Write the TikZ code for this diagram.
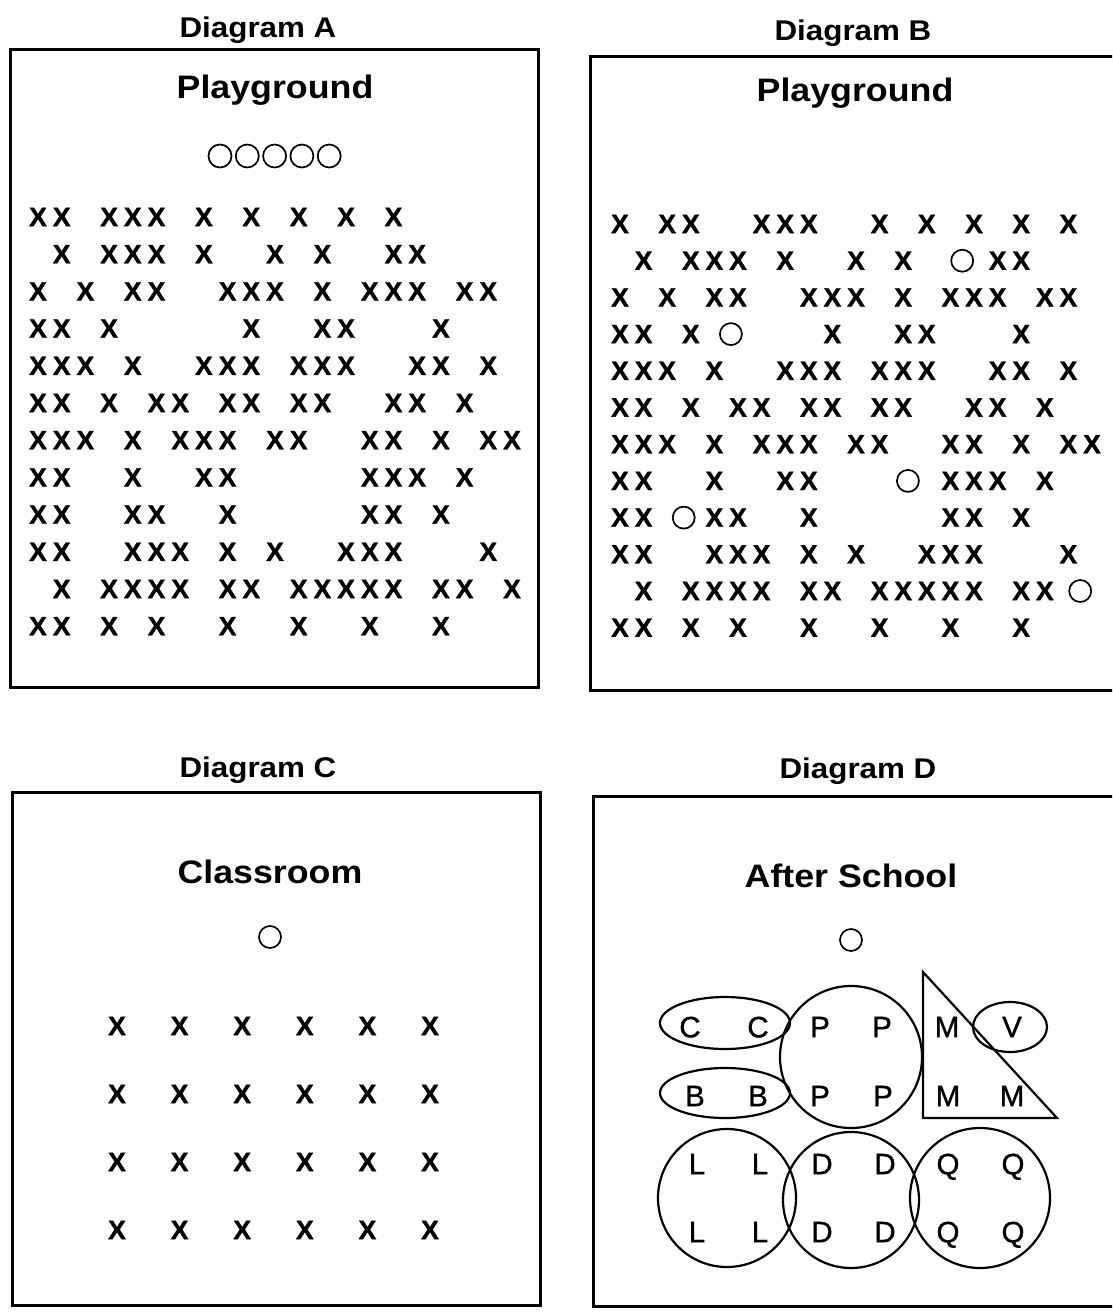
\documentclass[tikz,border=0pt]{standalone}
\usepackage{fontspec}
\setmainfont{Liberation Sans}
\newfontfamily\titlefont[FakeStretch=1.1]{Liberation Sans}
\newfontfamily\xfont[FakeBold=1.2]{Liberation Sans}
\newfontfamily\dfont[FakeBold=1]{Liberation Sans}
\usetikzlibrary{shapes.geometric}
\begin{document}
\begin{tikzpicture}[x=1pt,y=-1pt,
  box/.style={draw, line width=3pt},
  lbl/.style={inner sep=0pt, anchor=base, font=\titlefont\bfseries\fontsize{28.5}{31}\selectfont},
  ttl/.style={inner sep=0pt, anchor=base, font=\titlefont\bfseries\fontsize{32.5}{35}\selectfont},
  xmark/.style={inner sep=0pt, text depth=0pt, font=\xfont\bfseries\fontsize{26.5}{29}\selectfont},
  omark/.style={circle, draw, line width=1.7pt, minimum size=22pt, inner sep=0pt},
  letr/.style={inner sep=0pt, text depth=0pt, font=\dfont\fontsize{29.5}{32}\selectfont},
  shp/.style={draw, line width=2.2pt, inner sep=0pt}
]
\useasboundingbox (0,0) rectangle (1112,1314);
\fill[white] (0,0) rectangle (1112,1314);
\clip (0,0) rectangle (1112,1314);

% ---------------- Diagram A ----------------
\node[lbl] (labA) at (258,38) {Diagram A};
\draw[box] (10,50) rectangle (538,687);
\node[ttl] (ttlA) at (275,98) {Playground};
\foreach \i in {0,...,4} {
  \node[omark, minimum size=23pt] (oA\i) at ({220+27.3*\i},156) {};
}
\foreach \r/\cols in {
  1/{0,1,3,4,5,7,9,11,13,15},
  2/{1,3,4,5,7,10,12,15,16},
  3/{0,2,4,5,8,9,10,12,14,15,16,18,19},
  4/{0,1,3,9,12,13,17},
  5/{0,1,2,4,7,8,9,11,12,13,16,17,19},
  6/{0,1,3,5,6,8,9,11,12,15,16,18},
  7/{0,1,2,4,6,7,8,10,11,14,15,17,19,20},
  8/{0,1,4,7,8,14,15,16,18},
  9/{0,1,4,5,8,14,15,17},
  10/{0,1,4,5,6,8,10,13,14,15,19},
  11/{1,3,4,5,6,8,9,11,12,13,14,15,17,18,20},
  12/{0,1,3,5,8,11,14,17}} {
  \foreach \c in \cols {
    \node[xmark] (xA-\r-\c) at ({38+23.7*\c},{217+37.2*(\r-1)}) {X};
  }
}

% ---------------- Diagram B ----------------
\node[lbl] (labB) at (853,41) {Diagram B};
\draw[box] (590,57) rectangle (1130,690);
\node[ttl] (ttlB) at (855,101) {Playground};
\foreach \r/\cols in {
  1/{0,2,3,6,7,8,11,13,15,17,19},
  2/{1,3,4,5,7,10,12,16,17},
  3/{0,2,4,5,8,9,10,12,14,15,16,18,19},
  4/{0,1,3,9,12,13,17},
  5/{0,1,2,4,7,8,9,11,12,13,16,17,19},
  6/{0,1,3,5,6,8,9,11,12,15,16,18},
  7/{0,1,2,4,6,7,8,10,11,14,15,17,19,20},
  8/{0,1,4,7,8,14,15,16,18},
  9/{0,1,4,5,8,14,15,17},
  10/{0,1,4,5,6,8,10,13,14,15,19},
  11/{1,3,4,5,6,8,9,11,12,13,14,15,17,18},
  12/{0,1,3,5,8,11,14,17}} {
  \foreach \c in \cols {
    \node[xmark] (xB-\r-\c) at ({620+23.6*\c},{224+36.7*(\r-1)}) {X};
  }
}
\foreach \r/\c [count=\k] in {2/14.5, 4/4.7, 8/12.2, 9/2.7, 11/19.5} {
  \node[omark] (oB\k) at ({620+23.6*\c},{224+36.7*(\r-1)}) {};
}

% ---------------- Diagram C ----------------
\node[lbl] (labC) at (258,777) {Diagram C};
\draw[box] (12,792) rectangle (540,1305);
\node[ttl] (ttlC) at (270,883) {Classroom};
\node[omark] (oC) at (270,937) {};
\foreach \r in {0,...,3} {
  \foreach \c in {0,...,5} {
    \node[xmark] (xC-\r-\c) at ({117+62.6*\c},{1026+68*\r}) {X};
  }
}

% ---------------- Diagram D ----------------
\node[lbl] (labD) at (858,778) {Diagram D};
\draw[box] (593,796) rectangle (1130,1306);
\node[ttl] (ttlD) at (851,887) {After School};
\node[omark] (oD) at (851,940) {};

\node[shp, ellipse, minimum width=130pt, minimum height=52pt] (ellC) at (725,1023) {};
\node[shp, ellipse, minimum width=130pt, minimum height=50pt] (ellB) at (725,1093) {};
\node[shp, circle, minimum size=142pt] (cirP) at (851,1057) {};
\coordinate (triTop) at (923,972);
\coordinate (triBL) at (923,1118);
\coordinate (triBR) at (1057,1118);
\draw[line width=2.2pt, line join=miter] (triTop) -- (triBL) -- (triBR) -- cycle;
\node[shp, ellipse, minimum width=74pt, minimum height=50pt] (ellV) at (1010,1027) {};
\node[shp, circle, minimum size=138pt] (cirL) at (727,1198) {};
\node[shp, circle, minimum size=136pt] (cirD) at (851,1200) {};
\node[shp, circle, minimum size=140pt] (cirQ) at (980,1198) {};

\node[letr] (lC1) at (690,1027) {C};
\node[letr] (lC2) at (758,1027) {C};
\node[letr] (lP1) at (820,1027) {P};
\node[letr] (lP2) at (882,1027) {P};
\node[letr] (lM1) at (947,1027) {M};
\node[letr] (lV)  at (1012,1027) {V};
\node[letr] (lB1) at (695,1096) {B};
\node[letr] (lB2) at (758,1096) {B};
\node[letr] (lP3) at (820,1096) {P};
\node[letr] (lP4) at (883,1096) {P};
\node[letr] (lM2) at (948,1096) {M};
\node[letr] (lM3) at (1012,1096) {M};
\foreach \y/\k in {1164/1, 1232/2} {
  \node[letr] (lL\k a) at (697,\y) {L};
  \node[letr] (lL\k b) at (760,\y) {L};
  \node[letr] (lD\k a) at (822,\y) {D};
  \node[letr] (lD\k b) at (885,\y) {D};
  \node[letr] (lQ\k a) at (948,\y) {Q};
  \node[letr] (lQ\k b) at (1013,\y) {Q};
}
\end{tikzpicture}
\end{document}
